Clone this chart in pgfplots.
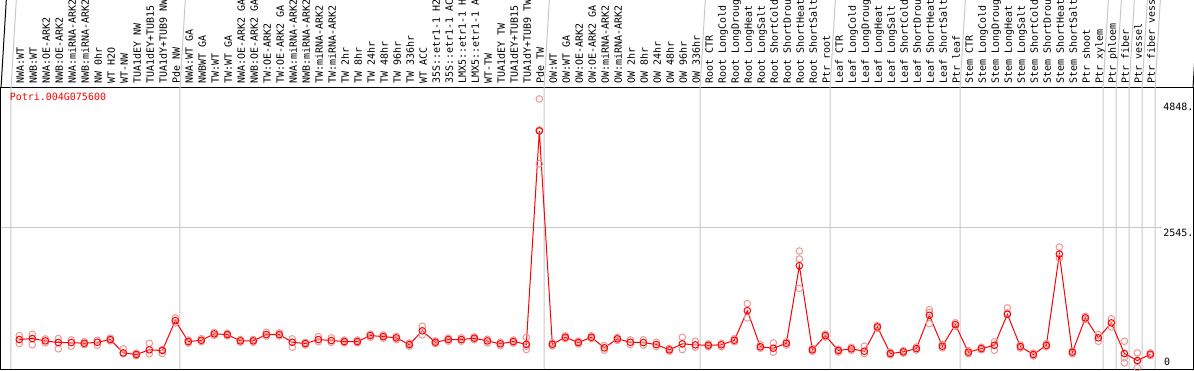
\documentclass[border=0pt]{standalone}
\usepackage{pgfplots}
\pgfplotsset{compat=1.18}
\usepackage{fontspec}
\newfontfamily\monof{DejaVu Sans Mono}
\definecolor{rep}{RGB}{238,150,150}
\definecolor{gridc}{RGB}{200,200,200}
\definecolor{pured}{RGB}{255,0,0}
\begin{document}
\begin{tikzpicture}
\begin{axis}[
  scale only axis, width=1192pt, height=281pt,
  xmin=-0.408, xmax=91.28, ymin=0, ymax=5045,
  xtick={1,...,88},
  xticklabels={NWA:WT,NWB:WT,NWA:OE-ARK2,NWB:OE-ARK2,NWA:miRNA-ARK2,NWB:miRNA-ARK2,NW 0hr,WT H2O,WT-NW,TUA1dEY NW,TUA1dEY+TUB15,TUA1dY+TUB9 NW,Pde NW,
    NWA:WT GA,NWBWT GA,TW:WT,TW:WT GA,NWA:OE-ARK2 GA,NWB:OE-ARK2 GA,TW:OE-ARK2,TW:OE-ARK2 GA,NWA:miRNA-ARK2,NWB:miRNA-ARK2,TW:miRNA-ARK2,TW:miRNA-ARK2,TW 2hr,TW 8hr,TW 24hr,TW 48hr,TW 96hr,TW 336hr,WT ACC,35S::etr1-1 H2,35S::etr1-1 AC,LMX5::etr1-1 H,LMX5::etr1-1 A,WT-TW,TUA1dEY TW,TUA1dEY+TUB15,TUA1dY+TUB9 TW,Pde TW,
    OW:WT,OW:WT GA,OW:OE-ARK2,OW:OE-ARK2 GA,OW:miRNA-ARK2,OW:miRNA-ARK2,OW 2hr,OW 8hr,OW 24hr,OW 48hr,OW 96hr,OW 336hr,
    Root CTR,Root LongCold,Root LongDroug,Root LongHeat,Root LongSalt,Root ShortCold,Root ShortDrou,Root ShortHeat,Root ShortSalt,Ptr root,
    Leaf CTR,Leaf LongCold,Leaf LongDroug,Leaf LongHeat,Leaf LongSalt,Leaf ShortCold,Leaf ShortDrou,Leaf ShortHeat,Leaf ShortSalt,Ptr leaf,
    Stem CTR,Stem LongCold,Stem LongDroug,Stem LongHeat,Stem LongSalt,Stem ShortCold,Stem ShortDrou,Stem ShortHeat,Stem ShortSalt,Ptr shoot,Ptr xylem,
    Ptr phloem,Ptr fiber,Ptr vessel,Ptr fiber vess},
  xticklabel pos=upper,
  xticklabel shift=4pt,
  xticklabel style={rotate=90, anchor=west, inner sep=0pt, font=\monof\fontsize{10}{10}\selectfont, text height=9pt, text depth=0pt},
  ytick=\empty,
  major tick length=0pt,
  tick style={draw=none},
  axis line style={black, line width=1pt},
  clip=false,
]
\coordinate (SW) at (rel axis cs:0,0);
\coordinate (NE) at (rel axis cs:1,1);
% group separators
\pgfplotsinvokeforeach{0.36,13.36,41.36,53.36,63.36,73.36,84.36,85.36,86.36,87.36,88.36}{
  \draw[gridc, line width=1pt] (axis cs:#1,0) -- (axis cs:#1,5045) -- ++(0,88pt);
}
\draw[gridc, line width=1pt] (axis cs:-0.408,2545) -- (axis cs:88.9,2545);
\draw[black, line width=1pt] (rel axis cs:0,1) -- ++(0,88pt);
\draw[black, line width=1pt] (rel axis cs:1,1) -- ++(0,88pt);
% replicates
\addplot[only marks, mark=o, mark size=3.3pt, rep, mark options={line width=1pt}] table {
x y
1 600
1 457
2 624
2 434
3 540
3 470
4 547
4 362
5 523
5 409
6 490
6 435
7 516
7 427
8 555
8 505
9 362
9 272
10 285
10 240
11 462
11 272
12 349
12 278
13 917
13 828
14 520
14 465
15 545
15 490
16 655
16 605
17 640
17 595
18 530
18 480
19 530
19 480
20 659
20 588
21 650
21 595
22 541
22 391
23 480
23 430
24 580
24 490
25 560
25 480
26 520
26 470
27 520
27 470
28 625
28 570
29 610
29 555
30 585
30 530
31 465
31 410
32 767
32 613
33 505
33 455
34 555
34 500
35 560
35 500
36 575
36 525
37 535
37 470
38 480
38 420
39 520
39 465
40 570
40 350
40 410
41 4848
41 3683
41 4291
42 470
42 415
43 595
43 545
44 500
44 450
45 595
45 545
46 421
46 337
47 565
47 515
48 523
48 439
49 523
49 430
50 480
50 403
51 370
51 320
52 570
52 349
53 498
53 391
54 450
54 400
55 460
55 400
56 545
56 490
57 1174
57 917
58 434
58 373
59 469
59 301
60 490
60 430
61 2118
61 1975
61 1448
62 370
62 320
63 625
63 575
64 355
64 305
65 390
65 335
66 409
66 278
67 780
67 730
68 300
68 255
69 330
69 285
70 395
70 340
71 1066
71 1018
71 815
72 440
72 380
73 830
73 765
74 330
74 275
75 390
75 345
76 487
76 337
77 1097
77 1007
78 430
78 375
79 285
79 235
80 455
80 400
81 2190
81 1993
82 325
82 275
83 945
83 890
84 618
84 498
85 900
85 756
86 498
86 201
86 111
87 290
87 22
87 144
88 290
88 240
};
% means
\addplot[pured, line width=1pt, mark=o, mark size=3.3pt, mark options={line width=1pt}] table {
x y
1 529
2 547
3 505
4 475
5 475
6 462
7 480
8 529
9 290
10 260
11 344
12 332
13 869
14 493
15 516
16 631
17 618
18 505
19 505
20 618
21 618
22 480
23 457
24 529
25 511
26 493
27 493
28 600
29 582
30 559
31 439
32 685
33 480
34 529
35 529
36 552
37 505
38 452
39 493
40 444
41 4274
42 444
43 570
44 475
45 570
46 380
47 541
48 480
49 475
50 439
51 344
52 452
53 434
54 426
55 434
56 516
57 1048
58 398
59 373
60 462
61 1855
62 344
63 600
64 332
65 362
66 319
67 756
68 278
69 308
70 367
71 964
72 409
73 797
74 301
75 367
76 426
77 982
78 403
79 260
80 426
81 2064
82 301
83 917
84 559
85 828
86 278
87 152
88 265
};
\node[anchor=west, inner sep=0pt, text=pured, font=\monof\fontsize{10}{10}\selectfont] at (axis cs:0.25,4883) {Potri.004G075600};
\node[anchor=west, inner sep=0pt, font=\monof\fontsize{10}{10}\selectfont] at (axis cs:88.98,4704) {4848.};
\node[anchor=west, inner sep=0pt, font=\monof\fontsize{10}{10}\selectfont] at (axis cs:88.98,2446) {2545.};
\node[anchor=west, inner sep=0pt, font=\monof\fontsize{10}{10}\selectfont] at (axis cs:89.05,134) {0};
\end{axis}
\pgfresetboundingbox
\path ([shift={(-1pt,-1pt)}]SW) rectangle ([shift={(1pt,88pt)}]NE);
\end{tikzpicture}
\end{document}
